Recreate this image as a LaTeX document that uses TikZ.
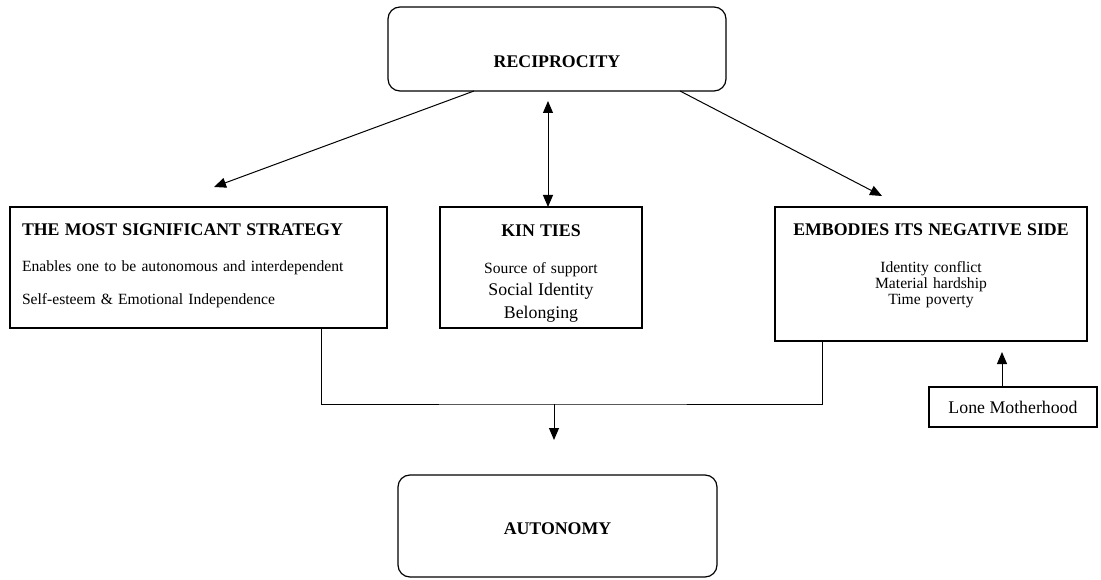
\documentclass[tikz,border=0pt]{standalone}
\usepackage{fontspec}
\setmainfont{Liberation Serif}
\usepackage{tikz}
\usetikzlibrary{arrows.meta}
\newcommand{\headfont}{\fontsize{17.8}{16}\selectfont\bfseries}
\newcommand{\bodyfont}{\fontsize{15.6}{16}\selectfont}
\newcommand{\bigfont}{\fontsize{17.8}{16}\selectfont}
\tikzset{
    box_round/.style={draw,line width=1.2pt,rounded corners=12pt,inner sep=0pt,outer sep=0pt,anchor=north west,font=\headfont},
    box_plain/.style={draw,line width=1.2pt,inner sep=0pt,outer sep=0pt,anchor=north west,font=\bodyfont},
    link/.style={line width=1pt},
    arrow_single/.style={-{Triangle[length=12pt,width=10pt]},line width=1pt},
    arrow_double/.style={{Triangle[length=12pt,width=10pt]}-{Triangle[length=12pt,width=10pt]},line width=1pt},
}

\begin{document}
\begin{tikzpicture}[x=1pt,y=-1pt]
  \useasboundingbox (0,0) rectangle (1101,580);
  \coordinate (left_tip) at (214,187);
  \coordinate (right_tip) at (882,196);
  \coordinate (kin_top) at (548,101);
  \coordinate (join) at (554,404);
  \coordinate (auto_tip) at (554,440);
  % Draw boxes
  \node[box_round,minimum width=338pt,text height=61pt,text depth=23pt] (recip) at (388,7) {RECIPROCITY};
  \node[box_plain,text width=353pt,inner xsep=12pt,align=left,text height=29pt,text depth=92pt] (strategy) at (10,207)
    {{\headfont THE MOST SIGNIFICANT STRATEGY}\\[20pt]
     Enables one to be autonomous and interdependent\\[17pt]
     Self-esteem \& Emotional Independence};
  \node[box_plain,text width=202pt,align=center,text height=30pt,text depth=91pt] (kin) at (440,207)
    {{\headfont KIN TIES}\\[20pt]
     Source of support\\[6.5pt]
     {\bigfont Social Identity}\\[6pt]
     {\bigfont Belonging}};
  \node[box_plain,text width=312pt,align=center,text height=29pt,text depth=105pt] (neg) at (775,207)
    {{\headfont EMBODIES ITS NEGATIVE SIDE}\\[21pt]
     Identity conflict\\
     Material hardship\\
     Time poverty};
  \node[box_plain,minimum width=168pt,text height=26pt,text depth=14pt,font=\bigfont] (lone) at (929,387) {Lone Motherhood};
  \node[box_round,minimum width=319pt,text height=59pt,text depth=43pt] (auto) at (398,475) {AUTONOMY};
  % Draw arrows out of reciprocity
  \draw[arrow_single] ([xshift=86pt]recip.south west) -- (left_tip);
  \draw[arrow_double] (kin_top) -- (kin_top |- kin.north);
  \draw[arrow_single] ([xshift=-46pt]recip.south east) -- (right_tip);
  % Draw joint link down to autonomy
  \draw[link] ([xshift=311pt]strategy.south west) |- (join) -| ([xshift=47pt]neg.south west);
  \draw[arrow_single] (join) -- (auto_tip);
  \draw[arrow_single] ([xshift=-11pt]lone.north) -- ++(0,-35);
\end{tikzpicture}
\end{document}
